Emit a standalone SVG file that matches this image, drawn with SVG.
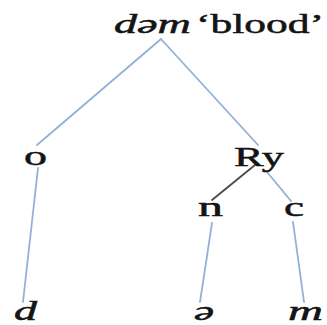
<svg xmlns="http://www.w3.org/2000/svg" width="327" height="325" viewBox="0 0 327 325">
<style>
.t{font-family:"Liberation Serif","Times New Roman",serif;font-size:27px;fill:#141414;stroke:#141414;stroke-width:0.5}
.i{font-style:italic}
.e{stroke:#93b1d6;stroke-width:1.8;fill:none;stroke-linecap:round}
.k{stroke:#4a4a4a}
</style>
<rect width="327" height="325" fill="#fff"/>
<g id="connectors">
<line class="e" x1="161" y1="39" x2="37" y2="145"/>
<line class="e" x1="161" y1="39" x2="258" y2="145"/>
<line class="e" x1="38" y1="168" x2="23" y2="302"/>
<line class="e k" x1="255" y1="165" x2="212" y2="200"/>
<line class="e" x1="267" y1="172" x2="291" y2="201"/>
<line class="e" x1="212" y1="223" x2="200" y2="302"/>
<line class="e" x1="293" y1="222" x2="304" y2="302"/>
</g>
<g id="root"><text class="t i" x="114" y="33" textLength="77" lengthAdjust="spacingAndGlyphs">dəm</text><text class="t" x="196" y="33" textLength="128" lengthAdjust="spacingAndGlyphs">‘blood’</text></g>
<g id="o"><text class="t" x="24" y="165" textLength="23" lengthAdjust="spacingAndGlyphs">o</text></g>
<g id="Ry"><text class="t" x="234" y="166" textLength="50" lengthAdjust="spacingAndGlyphs">Ry</text></g>
<g id="n"><text class="t" x="198" y="216" textLength="25" lengthAdjust="spacingAndGlyphs">n</text></g>
<g id="c"><text class="t" x="284" y="216" textLength="20" lengthAdjust="spacingAndGlyphs">c</text></g>
<g id="d"><text class="t i" x="14" y="320" textLength="23" lengthAdjust="spacingAndGlyphs">d</text></g>
<g id="schwa"><text class="t i" x="194" y="320" textLength="20" lengthAdjust="spacingAndGlyphs">ə</text></g>
<g id="m"><text class="t i" x="288" y="320" textLength="35" lengthAdjust="spacingAndGlyphs">m</text></g>
</svg>
